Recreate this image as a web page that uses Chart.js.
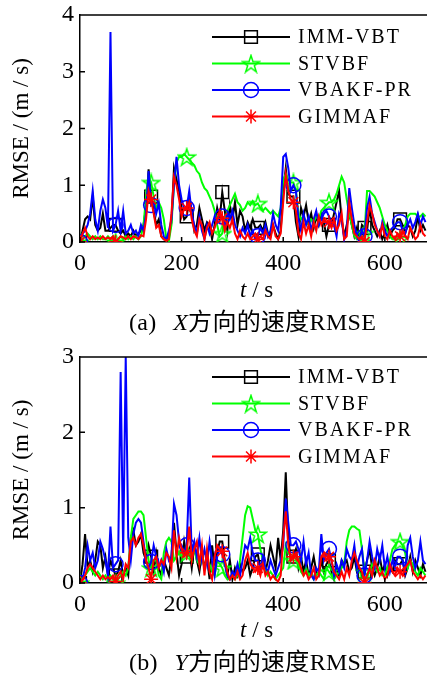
<!DOCTYPE html>
<html>
<head>
<meta charset="utf-8">
<script src="https://cdn.jsdelivr.net/npm/chart.js@4/dist/chart.umd.min.js"></script>
<style>
  body { margin: 0; background: #fff; }
  .panel { position: relative; width: 427px; height: 340px; overflow: hidden; }
  .panel canvas { position: absolute; left: 0; top: 0; }
  .xlab { position: absolute; left: 240px; top: 277px; font: 23px "Liberation Serif", serif; white-space: pre; }
  .cap { position: absolute; left: 129px; top: 307px; height: 30px; line-height: 30px; font-size: 24px; font-family: "Liberation Serif", "Noto Sans CJK SC", serif; white-space: pre; letter-spacing: 0.3px; }
  .cap i { margin-left: 4px; }
</style>
</head>
<body>
<div class="panel">
  <canvas id="chartX" width="427" height="340"></canvas>
  <div class="xlab"><i>t</i> / s</div>
  <div class="cap">(a)  <i>X</i>方向的速度RMSE</div>
</div>
<div class="panel">
  <canvas id="chartY" width="427" height="340"></canvas>
  <div class="xlab"><i>t</i> / s</div>
  <div class="cap">(b)  <i>Y</i>方向的速度RMSE</div>
</div>
<script>
// sample times (s), one every 5 s
const t = Array.from({length: 137}, (_, i) => i * 5);
const xTicks = [0, 200, 400, 600];
const labels = ['IMM-VBT', 'STVBF', 'VBAKF-PR', 'GIMMAF'];

// (a) X direction
const immX = [
  0, 0.2, 0.4, 0.45, 0.4, 0.8, 0.3, 0.2, 0.25, 0.5,
  0.2, 0.2, 0.25, 0.3, 0.3, 0.2, 0.15, 0.2, 0.1, 0.15,
  0.1, 0.2, 0.1, 0.15, 0.2, 0.3, 0.6, 1.28, 0.8, 0.55,
  0.3, 0.4, 0.1, 0.05, 0.05, 0.1, 0.35, 1.3, 1.1, 0.9,
  0.6, 0.4, 0.45, 0.75, 0.55, 0.2, 0.3, 0.6, 0.4, 0.2,
  0.35, 0.3, 0.05, 0.3, 0.6, 0.4, 0.88, 0.55, 0.2, 0.65,
  0.4, 0.7, 0.3, 0.55, 0.45, 0.2, 0.35, 0.25, 0.4, 0.25,
  0.25, 0.3, 0.2, 0.35, 0.15, 0.1, 0.3, 0.15, 0.05, 0.2,
  0.9, 1.3, 0.85, 0.8, 0.8, 0.35, 0.1, 0.6, 0.45, 0.65,
  0.35, 0.5, 0.25, 0.45, 0.3, 0.5, 0.35, 0.1, 0.3, 0.3,
  0.5, 0.7, 0.9, 0.4, 0.1, 0.3, 0.5, 0.3, 0.1, 0.25,
  0.05, 0.3, 0.25, 0.2, 0.6, 0.3, 0.2, 0.1, 0.2, 0.05,
  0.15, 0.3, 0.1, 0.2, 0.25, 0.4, 0.4, 0.3, 0.15, 0.3,
  0.25, 0.1, 0.2, 0.45, 0.2, 0.3, 0.2
];
const stvX = [
  0, 0.05, 0.1, 0.15, 0.1, 0.05, 0.1, 0.05, 0.1, 0.05,
  0.05, 0.1, 0.05, 0.1, 0.0, 0.05, 0.1, 0.05, 0.1, 0.05,
  0.1, 0.05, 0.1, 0.05, 0.1, 0.3, 0.8, 1.15, 1.05, 0.8,
  0.6, 0.7, 0.6, 0.4, 0.05, 0.02, 0.3, 1.0, 1.4, 1.5,
  1.5, 1.55, 1.5, 1.45, 1.4, 1.35, 1.25, 1.2, 1.05, 0.95,
  0.9, 0.8, 0.7, 0.55, 0.3, 0.1, 0.15, 0.4, 0.55, 0.65,
  0.75, 0.85, 0.7, 0.65, 0.55, 0.6, 0.7, 0.65, 0.72, 0.65,
  0.68, 0.6, 0.55, 0.6, 0.55, 0.5, 0.55, 0.5, 0.45, 0.6,
  1.1, 1.2, 1.1, 1.05, 1.05, 0.9, 0.5, 0.4, 0.45, 0.35,
  0.3, 0.4, 0.35, 0.45, 0.4, 0.55, 0.6, 0.65, 0.7, 0.7,
  0.75, 0.85, 1.0, 1.15, 1.05, 0.75, 0.5, 0.3, 0.1, 0.05,
  0.1, 0.05, 0.15, 0.9, 0.9, 0.85, 0.8, 0.7, 0.6, 0.45,
  0.3, 0.2, 0.1, 0.05, 0.05, 0.05, 0.05, 0.2, 0.3, 0.45,
  0.5, 0.5, 0.5, 0.45, 0.45, 0.5, 0.45
];
const vbaX = [
  0, 0.15, 0.2, 0.3, 0.5, 0.9, 0.4, 0.2, 0.55, 0.75,
  0.6, 0.25, 3.7, 0.2, 0.3, 0.55, 0.2, 0.55, 0.15, 0.2,
  0.3, 0.15, 0.2, 0.1, 0.3, 0.2, 0.5, 1.25, 0.65, 0.7,
  0.5, 0.68, 0.3, 0.1, 0.05, 0.2, 0.4, 1.0, 1.5, 1.0,
  0.75, 0.6, 0.6, 0.9, 0.5, 0.3, 0.15, 0.45, 0.2, 0.05,
  0.3, 0.15, 0.3, 0.45, 0.35, 0.5, 0.45, 0.3, 0.5, 0.4,
  0.55, 0.3, 0.2, 0.1, 0.25, 0.15, 0.3, 0.1, 0.2, 0.05,
  0.1, 0.25, 0.15, 0.3, 0.1, 0.2, 0.5, 0.3, 0.2, 0.6,
  1.5, 1.55, 1.3, 0.9, 1.0, 0.9, 0.4, 0.2, 0.5, 0.3,
  0.45, 0.2, 0.4, 0.55, 0.3, 0.4, 0.5, 0.55, 0.45, 0.35,
  0.3, 0.1, 0.5, 0.4, 0.05, 0.2, 0.95, 0.6, 0.3, 0.1,
  0.05, 0.2, 0.1, 0.6, 0.8, 0.5, 0.35, 0.2, 0.1, 0.35,
  0.2, 0.1, 0.2, 0.25, 0.3, 0.35, 0.35, 0.2, 0.15, 0.3,
  0.4, 0.25, 0.35, 0.5, 0.3, 0.45, 0.35
];
const gimX = [
  0, 0.15, 0.25, 0.1, 0.05, 0.1, 0.05, 0.08, 0.05, 0.1,
  0.05, 0.08, 0.05, 0.1, 0.0, 0.05, 0.1, 0.08, 0.05, 0.1,
  0.05, 0.1, 0.08, 0.05, 0.12, 0.1, 0.4, 0.9, 0.75, 0.5,
  0.25, 0.3, 0.1, 0.05, 0.02, 0.05, 0.5, 1.15, 1.0, 0.75,
  0.45, 0.6, 0.6, 0.7, 0.4, 0.2, 0.1, 0.4, 0.3, 0.05,
  0.25, 0.35, 0.15, 0.25, 0.4, 0.55, 0.42, 0.2, 0.35, 0.25,
  0.4, 0.15, 0.05, 0.2, 0.1, 0.05, 0.15, 0.05, 0.1, 0.15,
  0.05, 0.1, 0.05, 0.2, 0.1, 0.05, 0.3, 0.1, 0.05, 0.15,
  0.7, 1.2, 0.9, 0.75, 0.7, 0.55, 0.15, 0.05, 0.35, 0.15,
  0.3, 0.1, 0.35, 0.2, 0.45, 0.3, 0.4, 0.35, 0.35, 0.25,
  0.4, 0.2, 0.3, 0.5, 0.05, 0.1, 0.7, 0.4, 0.15, 0.1,
  0.05, 0.1, 0.0, 0.35, 0.65, 0.5, 0.3, 0.2, 0.1, 0.3,
  0.1, 0.05, 0.2, 0.1, 0.05, 0.15, 0.1, 0.2, 0.1, 0.05,
  0.25, 0.15, 0.05, 0.1, 0.3, 0.15, 0.1
];

// (b) Y direction
const immY = [
  0, 0.25, 0.65, 0.2, 0.3, 0.15, 0.3, 0.55, 0.5, 0.2,
  0.35, 0.1, 0.3, 0.2, 0.1, 0.15, 0.3, 0.1, 0.2, 0.1,
  0.6, 0.7, 0.5, 0.55, 0.65, 0.4, 0.3, 0.5, 0.35, 0.15,
  0.4, 0.2, 0.1, 0.3, 0.2, 0.1, 0.35, 0.8, 0.4, 0.1,
  0.25, 0.55, 0.35, 0.45, 0.2, 0.5, 0.3, 0.15, 0.4, 0.2,
  0.35, 0.05, 0.5, 0.2, 0.4, 0.55, 0.55, 0.3, 0.1, 0.3,
  0.05, 0.2, 0.1, 0.25, 0.15, 0.2, 0.3, 0.1, 0.2, 0.35,
  0.38, 0.2, 0.3, 0.15, 0.3, 0.5, 0.35, 0.2, 0.6, 0.3,
  0.7, 1.47, 0.6, 0.3, 0.35, 0.45, 0.2, 0.35, 0.15, 0.3,
  0.1, 0.2, 0.35, 0.15, 0.1, 0.3, 0.15, 0.25, 0.3, 0.15,
  0.05, 0.2, 0.1, 0.3, 0.25, 0.3, 0.15, 0.2, 0.35, 0.15,
  0.2, 0.1, 0.15, 0.3, 0.45, 0.2, 0.1, 0.2, 0.35, 0.15,
  0.25, 0.1, 0.2, 0.15, 0.3, 0.25, 0.25, 0.3, 0.1, 0.2,
  0.35, 0.15, 0.3, 0.2, 0.1, 0.25, 0.15
];
const stvY = [
  0, 0.05, 0.1, 0.15, 0.2, 0.15, 0.1, 0.15, 0.1, 0.05,
  0.1, 0.05, 0.1, 0.05, 0.0, 0.05, 0.1, 0.15, 0.1, 0.2,
  0.6, 0.85, 0.9, 0.95, 0.95, 0.9, 0.6, 0.3, 0.2, 0.3,
  0.3, 0.1, 0.05, 0.4, 0.55, 0.6, 0.55, 0.3, 0.35, 0.4,
  0.35, 0.4, 0.4, 0.35, 0.5, 0.45, 0.3, 0.25, 0.35, 0.2,
  0.3, 0.25, 0.15, 0.1, 0.3, 0.25, 0.2, 0.1, 0.05, 0.05,
  0.1, 0.05, 0.1, 0.3, 0.6, 0.9, 1.02, 1.0, 0.85, 0.7,
  0.65, 0.45, 0.3, 0.2, 0.1, 0.15, 0.1, 0.05, 0.1, 0.15,
  0.2, 0.5, 0.4, 0.35, 0.3, 0.3, 0.25, 0.15, 0.1, 0.2,
  0.1, 0.15, 0.05, 0.1, 0.15, 0.1, 0.05, 0.2, 0.15, 0.1,
  0.05, 0.1, 0.15, 0.2, 0.25, 0.55, 0.7, 0.75, 0.75, 0.72,
  0.7, 0.45, 0.15, 0.1, 0.15, 0.25, 0.2, 0.15, 0.2, 0.1,
  0.1, 0.2, 0.3, 0.45, 0.5, 0.55, 0.55, 0.5, 0.4, 0.2,
  0.3, 0.25, 0.15, 0.1, 0.2, 0.15, 0.1
];
const vbaY = [
  0, 0.05, 0.2, 0.5, 0.3, 0.4, 0.2, 0.3, 0.55, 0.45,
  0.3, 0.1, 0.75, 0.2, 0.25, 0.3, 2.8, 0.4, 3.0, 0.6,
  0.3, 0.65, 0.8, 0.85, 0.8, 0.55, 0.3, 0.2, 0.28, 0.5,
  0.35, 0.2, 0.3, 0.15, 0.45, 0.3, 0.35, 1.05, 0.9, 0.55,
  0.5, 0.4, 0.5, 1.4, 0.4, 0.55, 0.35, 0.6, 0.3, 0.45,
  0.25, 0.55, 0.3, 0.1, 0.35, 0.45, 0.38, 0.25, 0.1, 0.05,
  0.15, 0.1, 0.25, 0.1, 0.3, 0.5, 0.45, 0.6, 0.4, 0.3,
  0.3, 0.2, 0.35, 0.2, 0.15, 0.3, 0.2, 0.1, 0.2, 0.3,
  0.5, 1.12, 0.8, 0.5, 0.5, 0.55, 0.45, 0.3, 0.55, 0.25,
  0.4, 0.1, 0.05, 0.2, 0.15, 0.65, 0.3, 0.4, 0.45, 0.3,
  0.1, 0.25, 0.15, 0.3, 0.2, 0.45, 0.35, 0.3, 0.5, 0.2,
  0.35, 0.45, 0.1, 0.3, 0.55, 0.35, 0.2, 0.45, 0.3, 0.5,
  0.2, 0.35, 0.15, 0.3, 0.2, 0.35, 0.35, 0.3, 0.15, 0.5,
  0.6, 0.35, 0.2, 0.3, 0.55, 0.3, 0.25
];
const gimY = [
  0, 0.05, 0.1, 0.2, 0.25, 0.2, 0.15, 0.1, 0.05, 0.1,
  0.05, 0.08, 0.05, 0.1, 0.02, 0.1, 0.15, 0.05, 0.25, 0.2,
  0.55, 0.6, 0.5, 0.6, 0.65, 0.5, 0.3, 0.2, 0.05, 0.3,
  0.35, 0.2, 0.3, 0.25, 0.4, 0.35, 0.2, 0.7, 0.35, 0.6,
  0.45, 0.35, 0.4, 0.75, 0.3, 0.45, 0.55, 0.25, 0.5, 0.1,
  0.45, 0.15, 0.05, 0.35, 0.5, 0.45, 0.42, 0.3, 0.15, 0.05,
  0.1, 0.05, 0.15, 0.05, 0.1, 0.3, 0.4, 0.25, 0.2, 0.15,
  0.2, 0.1, 0.25, 0.1, 0.15, 0.05, 0.1, 0.05, 0.02, 0.1,
  0.6, 0.95, 0.5, 0.3, 0.35, 0.4, 0.3, 0.2, 0.1, 0.15,
  0.05, 0.1, 0.2, 0.05, 0.1, 0.35, 0.4, 0.3, 0.35, 0.3,
  0.15, 0.1, 0.05, 0.15, 0.05, 0.2, 0.1, 0.3, 0.4, 0.3,
  0.2, 0.15, 0.0, 0.1, 0.2, 0.1, 0.3, 0.2, 0.1, 0.15,
  0.05, 0.1, 0.25, 0.15, 0.1, 0.2, 0.15, 0.1, 0.2, 0.25,
  0.3, 0.15, 0.1, 0.05, 0.1, 0.05, 0.1
];

const serif = '"Liberation Serif", "Times New Roman", serif';

// hollow five-pointed star like MATLAB's 'p' marker
function pentagram(color, size) {
    const c = document.createElement('canvas');
    c.width = c.height = size;
    const g = c.getContext('2d');
    const R = size / 2 - 1, r = R * 0.382;
    g.strokeStyle = color;
    g.lineWidth = 1.5;
    g.beginPath();
    for (let i = 0; i < 10; i++) {
        const a = -Math.PI / 2 + i * Math.PI / 5;
        const rr = i % 2 ? r : R;
        g.lineTo(size / 2 + rr * Math.cos(a), size / 2 + 1 + rr * Math.sin(a));
    }
    g.closePath();
    g.stroke();
    return c;
}

const styles = [
    { color: '#000000', pointStyle: 'rect', radius: 9 },
    { color: '#00ff00', pointStyle: pentagram('#00ff00', 20), radius: 8 },
    { color: '#0000ff', pointStyle: 'circle', radius: 7.5 },
    { color: '#ff0000', pointStyle: 'star', radius: 7 }
];

function dataset(i, values) {
    const s = styles[i];
    return {
        label: labels[i],
        data: t.map((x, k) => ({ x: x, y: values[k] })),
        borderColor: s.color,
        borderWidth: 2,
        pointStyle: s.pointStyle,
        pointRadius: c => c.dataIndex % 14 === 0 ? s.radius : 0,
        pointHoverRadius: 0,
        pointBorderColor: s.color,
        pointBackgroundColor: 'rgba(0,0,0,0)',
        pointBorderWidth: 1.5,
        tension: 0,
        order: 4 - i
    };
}

// top box line, inward tick marks and the legend
const frame = {
    id: 'frame',
    afterDraw(chart) {
        const { ctx, chartArea: a, scales } = chart;
        ctx.save();
        ctx.strokeStyle = '#000';
        ctx.lineWidth = 1.5;
        ctx.beginPath();
        ctx.moveTo(a.left, a.top);
        ctx.lineTo(a.right, a.top);
        scales.y.ticks.forEach(tk => {
            const y = scales.y.getPixelForValue(tk.value);
            ctx.moveTo(a.left, y);
            ctx.lineTo(a.left + 5, y);
        });
        scales.x.ticks.forEach(tk => {
            const x = scales.x.getPixelForValue(tk.value);
            ctx.moveTo(x, a.bottom);
            ctx.lineTo(x, a.bottom - 5);
        });
        ctx.stroke();

        ctx.font = '20px ' + serif;
        ctx.letterSpacing = '2px';
        ctx.textBaseline = 'middle';
        styles.forEach((s, i) => {
            const y = 37 + i * 26.5;
            ctx.strokeStyle = s.color;
            ctx.lineWidth = 2;
            ctx.beginPath();
            ctx.moveTo(212, y);
            ctx.lineTo(290, y);
            ctx.stroke();
            ctx.fillStyle = 'rgba(0,0,0,0)';
            ctx.lineWidth = 1.5;
            Chart.helpers.drawPoint(ctx, { pointStyle: s.pointStyle, radius: s.radius, rotation: 0, borderWidth: 1.5 }, 251, y);
            ctx.fillStyle = '#000';
            ctx.fillText(labels[i], 298, y + 1);
        });
        ctx.restore();
    }
};

function makeChart(id, series, yMax, padTop, areaH) {
    return new Chart(document.getElementById(id), {
        type: 'line',
        data: { datasets: series.map((v, i) => dataset(i, v)) },
        options: {
            responsive: false,
            animation: false,
            events: [],
            layout: { autoPadding: false, padding: { top: padTop, right: 0, bottom: 0, left: 0 } },
            plugins: { legend: { display: false }, tooltip: { enabled: false } },
            scales: {
                x: {
                    type: 'linear',
                    min: 0,
                    max: 683,
                    afterBuildTicks: s => { s.ticks = xTicks.map(v => ({ value: v })); },
                    afterFit: s => {
                        s.height = 340 - padTop - areaH;
                        s.paddingLeft = 0;
                        s.paddingRight = 0;
                    },
                    grid: { drawOnChartArea: false, drawTicks: false },
                    border: { color: '#000', width: 1.5 },
                    ticks: { color: '#000', font: { family: serif, size: 24 }, padding: 7, maxRotation: 0 }
                },
                y: {
                    min: 0,
                    max: yMax,
                    afterFit: s => {
                        s.width = 80;
                        s.paddingTop = 0;
                        s.paddingBottom = 0;
                    },
                    grid: { drawOnChartArea: false, drawTicks: false },
                    border: { color: '#000', width: 1.5 },
                    ticks: { stepSize: 1, color: '#000', font: { family: serif, size: 24 }, padding: 6 },
                    title: {
                        display: true,
                        text: 'RMSE / (m / s)',
                        color: '#000',
                        font: { family: serif, size: 23 },
                        padding: { top: 8, bottom: 0 }
                    }
                }
            }
        },
        plugins: [frame]
    });
}

makeChart('chartX', [immX, stvX, vbaX, gimX], 4, 15, 227);
makeChart('chartY', [immY, stvY, vbaY, gimY], 3, 17, 226);
</script>
</body>
</html>
